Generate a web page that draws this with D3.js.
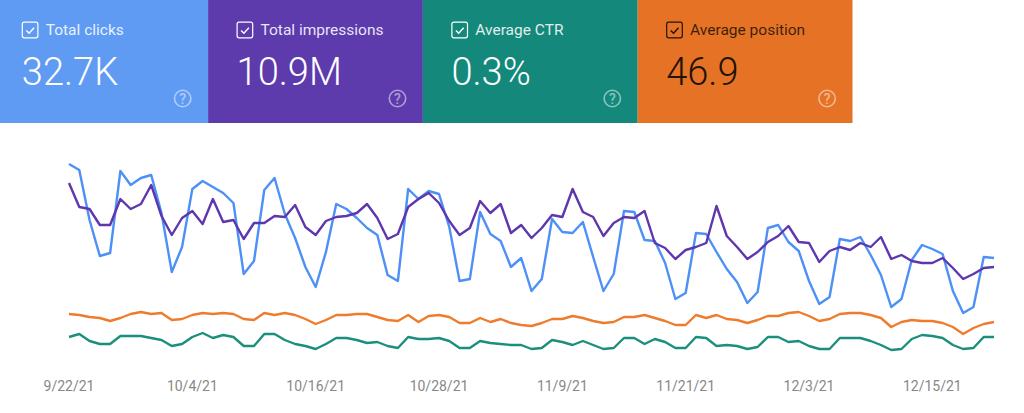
<!DOCTYPE html>
<html>
<head>
<meta charset="utf-8">
<script src="https://cdn.jsdelivr.net/npm/d3@7"></script>
<style>
  html, body { margin: 0; padding: 0; background: #fff; }
  svg { display: block; font-family: Roboto, sans-serif; }
</style>
</head>
<body>
<svg id="chart" width="1024" height="413"></svg>
<script>
// Search performance summary cards and their four daily lines
const cardLabels = ['Total clicks', 'Total impressions', 'Average CTR', 'Average position'];
const cardValues = ['32.7K', '10.9M', '0.3%', '46.9'];
const cardColors = ['#5f9bf3', '#5e3bad', '#14897b', '#e67225'];
const cardInk = ['#fff', '#fff', '#fff', '#1f1408'];

const startDate = new Date(2021, 8, 22);
const tickDates = [
  new Date(2021, 8, 22), new Date(2021, 9, 4), new Date(2021, 9, 16), new Date(2021, 9, 28),
  new Date(2021, 10, 9), new Date(2021, 10, 21), new Date(2021, 11, 3), new Date(2021, 11, 15)
];

const clicks = [206,200,150,114,117,199,185,192,195,157,98,123,181,189,183,177,167,96,109,180,192,156,132,103,83,118,166,161,152,142,135,95,89,181,171,179,176,143,89,91,158,136,129,103,112,79,91,151,138,137,148,113,79,96,159,158,130,129,107,71,77,137,136,118,101,88,67,78,142,145,128,119,89,66,73,131,129,133,115,95,63,71,110,125,121,116,79,57,63,113,112];
const impressions = [187,163,161,145,145,171,161,166,185,154,135,152,159,146,171,148,150,131,147,147,154,153,165,143,135,149,153,154,157,166,152,131,136,163,171,177,167,149,135,142,169,157,166,137,145,132,142,155,153,181,158,153,134,147,153,152,159,127,122,111,120,123,127,164,134,123,111,118,128,134,144,128,127,108,119,123,120,127,123,133,111,115,109,107,107,112,102,91,96,102,103];
const position = [56,55,53,52,49,52,56,58,56,57,50,51,55,57,56,57,56,51,50,57,55,57,55,51,46,50,55,55,56,56,53,50,49,55,48,54,55,53,47,47,52,48,51,47,45,44,47,51,51,54,52,49,47,48,53,53,55,52,49,45,45,55,52,55,51,50,47,50,54,54,57,58,54,49,51,56,57,57,55,52,43,48,50,49,49,47,43,36,42,46,48];
const ctr = [33,36,29,26,26,34,34,34,32,30,24,26,33,37,32,35,33,24,24,36,36,30,26,24,21,26,32,32,30,27,28,24,22,33,31,31,32,29,22,22,29,27,26,25,25,21,22,30,28,25,29,25,21,22,32,32,26,31,28,22,22,33,32,24,25,24,21,23,33,33,28,29,24,21,21,32,32,32,29,25,20,21,31,35,34,32,25,21,22,33,33];

const svg = d3.select('#chart');
const dayMs = 24 * 3600 * 1000;
const dateAt = i => new Date(startDate.getTime() + i * dayMs);

const x = d3.scaleTime().domain([dateAt(0), dateAt(90)]).range([69, 994]);
const y = d3.scaleLinear().domain([0, 210]).range([370, 160]);

// Cards, the first one is cut off by the left edge of the page
const cardX = d3.scaleLinear().domain([0, 4]).range([-6.7, 852.5]);
const card = svg.selectAll('g.card')
  .data(cardLabels)
  .join('g')
    .attr('class', 'card')
    .attr('transform', (d, i) => `translate(${cardX(i)},0)`);

card.append('rect')
    .attr('width', 214.8)
    .attr('height', 123)
    .attr('fill', (d, i) => cardColors[i]);

card.append('rect')
    .attr('x', 29)
    .attr('y', 22.2)
    .attr('width', 15.6)
    .attr('height', 15.6)
    .attr('rx', 2)
    .attr('fill', 'none')
    .attr('stroke', (d, i) => cardInk[i])
    .attr('stroke-width', 1.2);

card.append('path')
    .attr('d', 'M33 30.5l2.8 2.8 5-5.6')
    .attr('fill', 'none')
    .attr('stroke', (d, i) => cardInk[i])
    .attr('stroke-width', 1.4);

card.append('text')
    .attr('x', 52.4)
    .attr('y', 35)
    .attr('font-size', 15.5)
    .attr('fill', (d, i) => cardInk[i])
    .attr('fill-opacity', 0.88)
    .text(d => d);

card.append('text')
    .attr('x', 28.5)
    .attr('y', 85)
    .attr('font-size', 38)
    .attr('font-weight', 300)
    .attr('fill', (d, i) => cardInk[i])
    .text((d, i) => cardValues[i]);

card.append('circle')
    .attr('cx', 189.4)
    .attr('cy', 98.5)
    .attr('r', 8.2)
    .attr('fill', 'none')
    .attr('stroke', '#fff')
    .attr('stroke-opacity', 0.5)
    .attr('stroke-width', 1.6);

card.append('text')
    .attr('x', 189.4)
    .attr('y', 103.5)
    .attr('text-anchor', 'middle')
    .attr('font-size', 14)
    .attr('font-weight', 500)
    .attr('fill', '#fff')
    .attr('fill-opacity', 0.5)
    .text('?');

// Lines
const line = d3.line()
  .x((d, i) => x(dateAt(i)))
  .y(d => y(d));

const seriesList = [position, ctr, clicks, impressions];
const seriesColors = ['#ef7b2c', '#1a8f7c', '#4d90f6', '#5e37ae'];

svg.append('g')
    .attr('fill', 'none')
    .attr('stroke-width', 2.4)
    .attr('stroke-linejoin', 'round')
  .selectAll('path')
  .data(seriesList)
  .join('path')
    .attr('stroke', (d, i) => seriesColors[i])
    .attr('d', line);

// Date axis, labels only
const axis = d3.axisBottom(x)
  .tickValues(tickDates)
  .tickFormat(d3.timeFormat('%-m/%-d/%y'))
  .tickSize(0)
  .offset(0);

const axisG = svg.append('g')
    .attr('transform', 'translate(0,378)')
    .call(axis);
axisG.select('.domain').remove();
axisG.selectAll('text')
    .attr('font-family', 'Roboto, sans-serif')
    .attr('font-size', 14)
    .attr('fill', '#888');
</script>
</body>
</html>
